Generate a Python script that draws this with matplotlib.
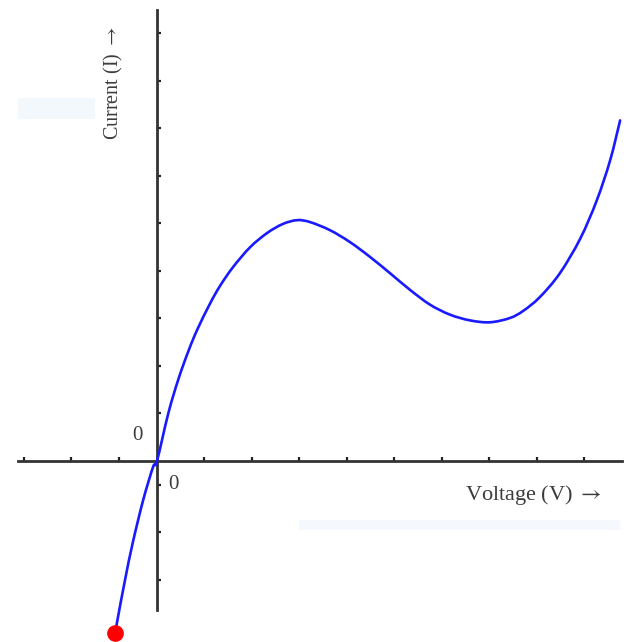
import matplotlib
matplotlib.use("Agg")
import numpy as np
import matplotlib.pyplot as plt
from matplotlib.patches import Rectangle, PathPatch
from matplotlib.path import Path

plt.rcParams["mathtext.fontset"] = "stix"

# I-V curve (tunnel-diode style) (1 unit = one tick)
VOLTAGE = [-0.88, -0.82, -0.67, -0.51, -0.29, -0.08, 0.0, 0.24, 0.45, 0.66,
           0.85, 1.12, 1.33, 1.60, 1.96, 2.32, 2.65, 2.95, 3.22, 3.64,
           4.06, 4.48, 4.91, 5.33, 5.75, 6.17, 6.59, 7.01, 7.43, 7.71,
           8.06, 8.48, 8.91, 9.26, 9.54, 9.75]
CURRENT = [-3.62, -3.28, -2.49, -1.72, -0.82, -0.12, 0.0, 1.01, 1.72, 2.31,
           2.77, 3.32, 3.69, 4.08, 4.50, 4.80, 4.99, 5.07, 5.03, 4.86,
           4.61, 4.30, 3.95, 3.60, 3.29, 3.08, 2.96, 2.92, 3.01, 3.16,
           3.45, 3.95, 4.68, 5.49, 6.33, 7.17]

START_POINT = (-0.88, -3.62)

X_TICKS = [-2.8, -1.8, -0.8, 1, 2, 3, 4, 5, 6, 7, 8, 9]
Y_TICKS = [-2.5, -1.5, -0.5, 1, 2, 3, 4, 5, 6, 7, 8, 9]
X_RANGE = (-2.93, 9.79)
Y_RANGE = (-3.14, 9.49)

SERIF = ["Liberation Serif", "DejaVu Serif"]
AXIS_COLOR = "#333333"
TEXT_COLOR = "#3c3c3c"


def smooth_path(xs, ys):
    """Catmull-Rom curve through the points, drawn as cubic Bezier segments."""
    pts = np.column_stack([xs, ys])
    padded = np.vstack([pts[0], pts, pts[-1]])
    verts = [pts[0]]
    codes = [Path.MOVETO]
    for i in range(1, len(padded) - 2):
        p0, p1, p2, p3 = padded[i - 1], padded[i], padded[i + 1], padded[i + 2]
        verts += [p1 + (p2 - p0) / 6, p2 - (p3 - p1) / 6, p2]
        codes += [Path.CURVE4] * 3
    return Path(verts, codes)


fig = plt.figure(figsize=(6.26, 6.42), dpi=100)
ax = fig.add_axes([0, 0, 1, 1])
ax.set_xlim(-3.305, 9.874)
ax.set_ylim(-3.811, 9.705)

# faint artefact boxes present in the source image
ax.add_patch(Rectangle((-2.93, 7.2), 1.62, 0.45, color="#f3f8fd", lw=0, zorder=0))
ax.add_patch(Rectangle((3.0, -1.46), 6.75, 0.22, color="#f5f9fd", lw=0, zorder=0))

# axes through the origin
for side in ["top", "right"]:
    ax.spines[side].set_visible(False)
ax.spines["left"].set_position(("data", 0))
ax.spines["bottom"].set_position(("data", 0))
ax.spines["left"].set_bounds(*Y_RANGE)
ax.spines["bottom"].set_bounds(*X_RANGE)
for side in ["left", "bottom"]:
    ax.spines[side].set_color(AXIS_COLOR)
    ax.spines[side].set_linewidth(2.0)

ax.set_xticks(X_TICKS)
ax.set_yticks(Y_TICKS)
ax.tick_params(direction="in", length=3, width=1.6, color="#222222",
               labelbottom=False, labelleft=False)

ax.add_patch(PathPatch(smooth_path(VOLTAGE, CURRENT), fill=False,
                       edgecolor="#1a1aff", linewidth=1.9, capstyle="round",
                       zorder=3))
ax.plot(*START_POINT, "o", color="#ff0000", markersize=11, zorder=4)

ax.text(-0.31, 0.53, "0", family=SERIF, fontsize=15, color=TEXT_COLOR,
        ha="right", va="center")
ax.text(0.23, -0.5, "0", family=SERIF, fontsize=15, color=TEXT_COLOR,
        ha="left", va="center")
ax.text(6.48, -0.72, r"Voltage (V) $\rightarrow$", family=SERIF, fontsize=16,
        color=TEXT_COLOR, ha="left", va="center")
ax.text(-0.926, 6.76, r"Current (I) $\rightarrow$", family=SERIF, fontsize=14.5,
        color=TEXT_COLOR, ha="center", va="bottom", rotation=90)

fig.savefig("out.png", dpi=100)
